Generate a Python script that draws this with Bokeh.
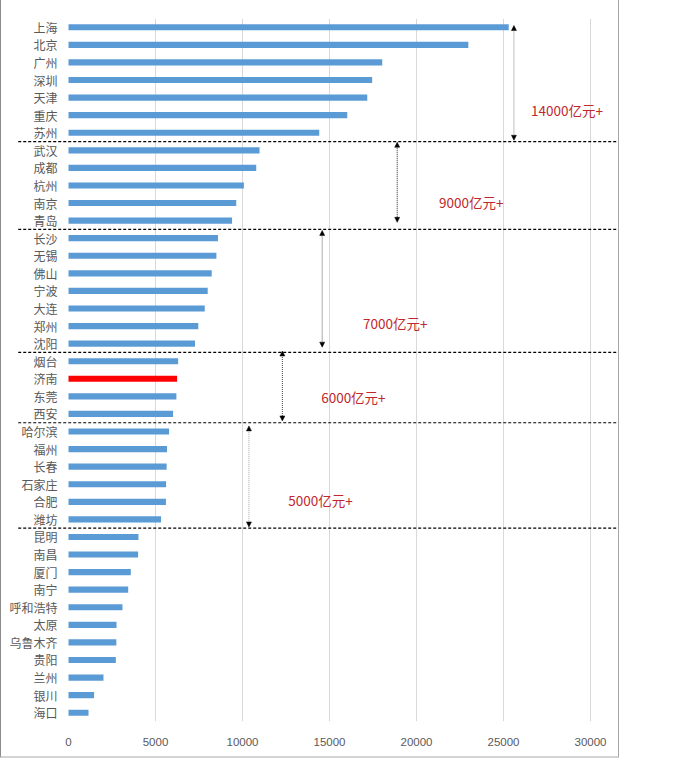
from bokeh.plotting import figure
from bokeh.models import ColumnDataSource, Range1d, FixedTicker, Arrow, NormalHead
from bokeh.core.properties import value
from bokeh.embed import file_html
from bokeh.resources import INLINE

# ---- data ----
cities = ["上海", "北京", "广州", "深圳", "天津", "重庆", "苏州",
          "武汉", "成都", "杭州", "南京", "青岛",
          "长沙", "无锡", "佛山", "宁波", "大连", "郑州", "沈阳",
          "烟台", "济南", "东莞", "西安",
          "哈尔滨", "福州", "长春", "石家庄", "合肥", "潍坊",
          "昆明", "南昌", "厦门", "南宁", "呼和浩特", "太原", "乌鲁木齐", "贵阳", "兰州", "银川", "海口"]
gdp = [25300, 22980, 18030, 17450, 17170, 16020, 14410,
       10980, 10790, 10080, 9640, 9400,
       8590, 8500, 8230, 8000, 7830, 7460, 7270,
       6300, 6240, 6200, 6010,
       5780, 5660, 5640, 5610, 5600, 5320,
       4020, 4000, 3580, 3430, 3100, 2760, 2750, 2720, 2010, 1470, 1150]
highlight = "济南"
group_sizes = [7, 5, 7, 4, 6, 11]
group_labels = ["14000亿元+", "9000亿元+", "7000亿元+", "6000亿元+", "5000亿元+"]
x_ticks = [0, 5000, 10000, 15000, 20000, 25000, 30000]

# ---- annotation placement (x of arrow, x of label, y of label) ----
arrow_x = [25600, 18890, 14580, 12290, 10370]
arrow_y = [(-0.1, 6.43), (6.54, 11.1), (11.56, 18.2), (18.42, 22.4), (22.68, 28.43)]
arrow_col = ["#808080", "#262626", "#595959", "#404040", "#a6a6a6"]
label_pos = [(26580, 4.72), (21300, 9.94), (16930, 16.84), (14520, 21.03), (12630, 26.9)]

n = len(cities)
idx = list(range(n))
colors = ["#FF0000" if c == highlight else "#5B9BD5" for c in cities]
src = ColumnDataSource(dict(y=idx, v=gdp, c=colors, name=cities))

p = figure(width=619, height=758,
           x_range=Range1d(-3736, 31609), y_range=Range1d(n - 0.5, -0.5),
           output_backend="svg", toolbar_location=None, y_axis_location=None,
           min_border_left=2, min_border_right=2, min_border_top=18, min_border_bottom=37)
p.outline_line_color = None
p.background_fill_color = "white"
p.styles = {"border-left": "1px solid #8c8c8c", "border-right": "1px solid #a6a6a6",
            "border-bottom": "2px solid #d4d4d4"}

p.xgrid.ticker = FixedTicker(ticks=x_ticks[1:])
p.xgrid.grid_line_color = "#d9d9d9"
p.ygrid.visible = False

ax = p.xaxis[0]
ax.ticker = FixedTicker(ticks=x_ticks)
ax.axis_line_color = None
ax.major_tick_line_color = None
ax.minor_tick_line_color = None
ax.major_label_text_font = "Liberation Sans"
ax.major_label_text_font_size = "11.5px"
ax.major_label_text_color = "#595959"
ax.major_label_standoff = 10

p.hbar(y="y", left=0, right="v", height=0.35, fill_color="c", line_color=None, source=src)
p.text(x=-630, y="y", text="name", source=src, text_align="right", text_baseline="middle",
       text_font=value("Noto Sans CJK SC"), text_font_size="12px", text_color="#595959")

# dashed separators between groups
bounds = []
s = 0
for g in group_sizes[:-1]:
    s += g
    bounds.append(s - 0.5)
p.segment(x0=[-2890] * len(bounds), x1=[31609] * len(bounds), y0=bounds, y1=bounds,
          line_color="black", line_dash="3 2", line_width=1.2)

for ax_x, (y0, y1), col in zip(arrow_x, arrow_y, arrow_col):
    p.add_layout(Arrow(x_start=ax_x, y_start=y0, x_end=ax_x, y_end=y1,
                       line_color=col, line_dash="1 1", line_width=1,
                       start=NormalHead(size=5, fill_color="black", line_color="black", line_width=0.5),
                       end=NormalHead(size=5, fill_color="black", line_color="black", line_width=0.5)))

lx = [pos[0] for pos in label_pos]
ly = [pos[1] for pos in label_pos]
p.text(x=lx, y=ly, text=group_labels, text_align="left", text_baseline="middle",
       text_font=value("Noto Sans CJK SC"), text_font_size="13.5px", text_color="#c0282d")

open("out.html", "w").write(file_html(p, INLINE))
